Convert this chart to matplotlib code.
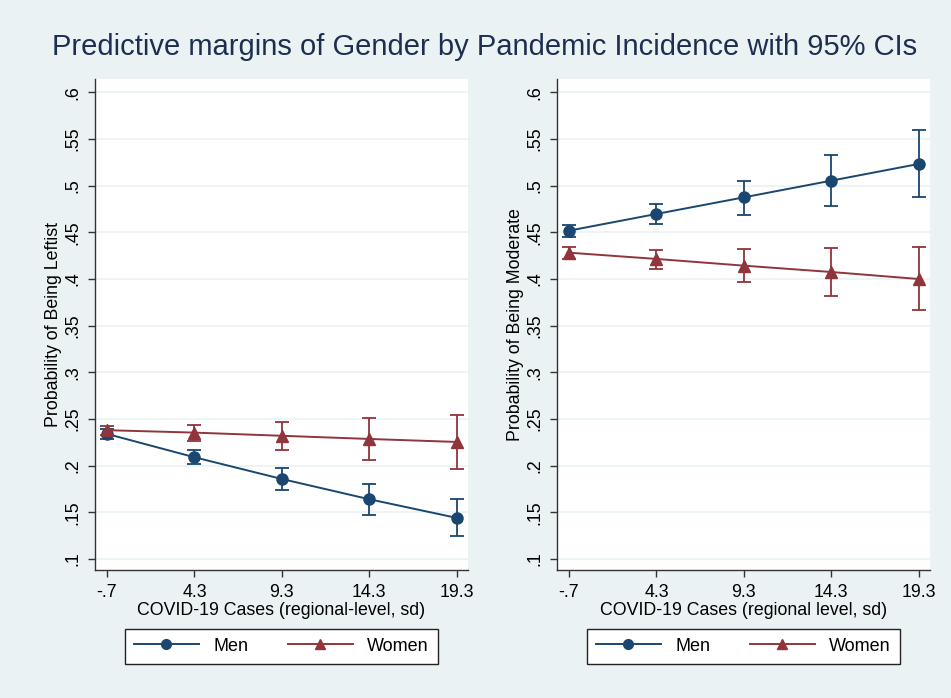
import matplotlib
matplotlib.use("Agg")
import matplotlib.pyplot as plt
from matplotlib.lines import Line2D
import numpy as np

plt.rcParams['font.family'] = ['Liberation Sans', 'DejaVu Sans']

x_vals = [-0.7, 4.3, 9.3, 14.3, 19.3]
x_labels = ["-.7", "4.3", "9.3", "14.3", "19.3"]
y_ticks = [0.1, 0.15, 0.2, 0.25, 0.3, 0.35, 0.4, 0.45, 0.5, 0.55, 0.6]
y_labels = [".1", ".15", ".2", ".25", ".3", ".35", ".4", ".45", ".5", ".55", ".6"]

# left panel: leftist
left_men = [0.234, 0.209, 0.1857, 0.164, 0.144]
left_men_lo = [0.229, 0.2016, 0.174, 0.1475, 0.1243]
left_men_hi = [0.239, 0.2166, 0.198, 0.180, 0.164]
left_women = [0.238, 0.2354, 0.232, 0.2286, 0.2254]
left_women_lo = [0.233, 0.2265, 0.2165, 0.206, 0.196]
left_women_hi = [0.243, 0.2436, 0.2468, 0.2508, 0.2547]

# right panel: moderate
right_men = [0.4518, 0.4697, 0.4875, 0.5054, 0.5233]
right_men_lo = [0.4453, 0.459, 0.4686, 0.4785, 0.4876]
right_men_hi = [0.4582, 0.4805, 0.5054, 0.5325, 0.5594]
right_women = [0.4282, 0.4215, 0.4143, 0.4075, 0.400]
right_women_lo = [0.4211, 0.411, 0.3968, 0.3818, 0.3665]
right_women_hi = [0.4347, 0.431, 0.4318, 0.4329, 0.434]

navy = "#1a476f"
maroon = "#90353b"
bg = "#eaf2f3"

fig = plt.figure(figsize=(9.51, 6.98), dpi=100, facecolor=bg)

panels = [
    (0.0999, left_men, left_men_lo, left_men_hi, left_women, left_women_lo, left_women_hi,
     "Probability of Being Leftist", "COVID-19 Cases (regional-level, sd)"),
    (0.5857, right_men, right_men_lo, right_men_hi, right_women, right_women_lo, right_women_hi,
     "Probability of Being Moderate", "COVID-19 Cases (regional level, sd)"),
]

for left, m, mlo, mhi, w, wlo, whi, ylab, xlab in panels:
    ax = fig.add_axes([left, 0.1834, 0.392, 0.7034])
    ax.set_facecolor("white")
    for yt in y_ticks:
        ax.axhline(yt, color=bg, lw=1.2, zorder=0)
    m = np.array(m)
    w = np.array(w)
    ax.errorbar(x_vals, m, yerr=[m - np.array(mlo), np.array(mhi) - m], color=navy,
                ecolor=navy, elinewidth=1.3, capsize=5, capthick=1.3, lw=1.4,
                marker="o", ms=8, zorder=3)
    ax.errorbar(x_vals, w, yerr=[w - np.array(wlo), np.array(whi) - w], color=maroon,
                ecolor=maroon, elinewidth=1.3, capsize=5, capthick=1.3, lw=1.4,
                marker="^", ms=8, zorder=3)
    ax.set_xlim(-1.386, 19.93)
    ax.set_ylim(0.0882, 0.6143)
    ax.set_xticks(x_vals)
    ax.set_xticklabels(x_labels, fontsize=12.8)
    ax.set_yticks(y_ticks)
    ax.set_yticklabels(y_labels, fontsize=12.8, rotation=90, va="center")
    ax.tick_params(length=5, width=1, color="#333333", pad=5)
    for s in ["top", "right"]:
        ax.spines[s].set_visible(False)
    for s in ["left", "bottom"]:
        ax.spines[s].set_color("#333333")
        ax.spines[s].set_linewidth(1)
    ax.set_ylabel(ylab, fontsize=12.8, labelpad=1.5)
    ax.set_xlabel(xlab, fontsize=12.8, labelpad=1)
    handles = [Line2D([], [], color=navy, lw=1.4, marker="o", ms=7),
               Line2D([], [], color=maroon, lw=1.4, marker="^", ms=7)]
    leg = ax.legend(handles, ["Men", "Women"], loc="center", bbox_to_anchor=(0.5, -0.155),
                    ncol=2, fontsize=13, frameon=True, fancybox=False, edgecolor="#222222",
                    handlelength=3.6, handletextpad=0.8, columnspacing=2.2, borderpad=0.5)
    leg.get_frame().set_linewidth(1)
    leg.get_frame().set_facecolor("white")
    leg.get_frame().set_alpha(1)

fig.text(0.51, 0.933, "Predictive margins of Gender by Pandemic Incidence with 95% CIs",
         ha="center", va="center", fontsize=21, color="#1e2e50")

fig.savefig("out.png", dpi=100, facecolor=bg)
